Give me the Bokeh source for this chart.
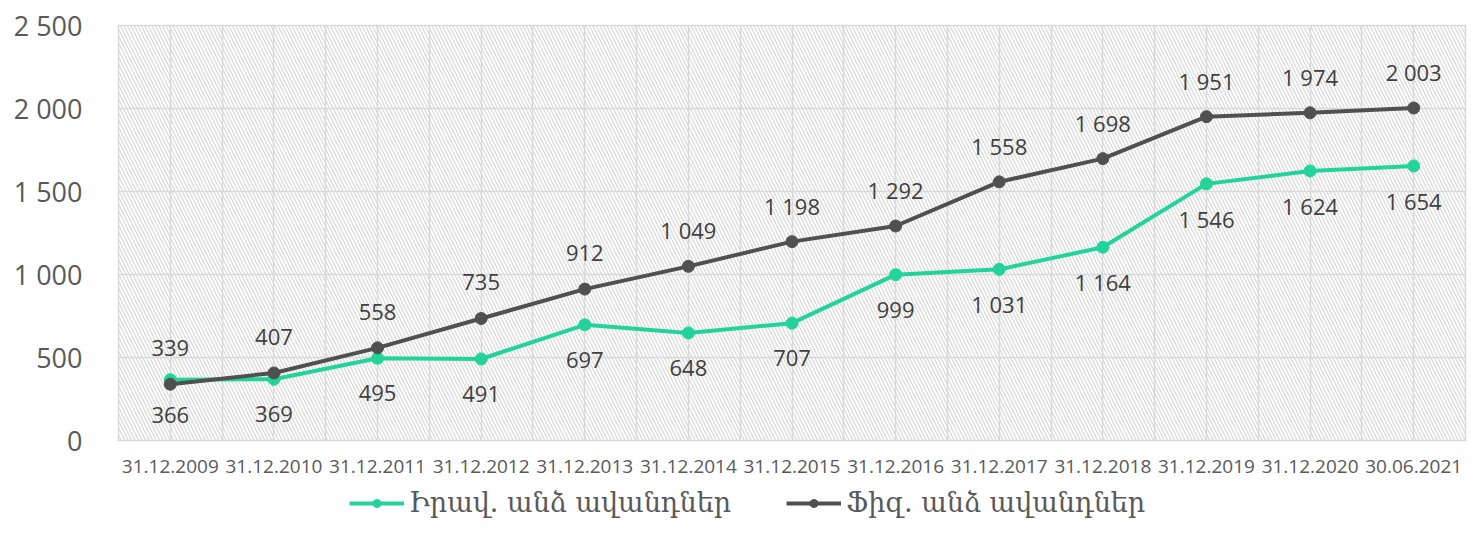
from bokeh.plotting import figure
from bokeh.layouts import column
from bokeh.models import Range1d, FixedTicker, BoxAnnotation, Legend, LegendItem, ColumnDataSource, LabelSet
from bokeh.embed import file_html
from bokeh.resources import INLINE
from bokeh.core.properties import value

categories = ["31.12.2009", "31.12.2010", "31.12.2011", "31.12.2012", "31.12.2013",
              "31.12.2014", "31.12.2015", "31.12.2016", "31.12.2017", "31.12.2018",
              "31.12.2019", "31.12.2020", "30.06.2021"]
legal = [366, 369, 495, 491, 697, 648, 707, 999, 1031, 1164, 1546, 1624, 1654]
physical = [339, 407, 558, 735, 912, 1049, 1198, 1292, 1558, 1698, 1951, 1974, 2003]
legal_name = "Իրավ. անձ ավանդներ"
physical_name = "Ֆիզ. անձ ավանդներ"
y_ticks = [0, 500, 1000, 1500, 2000, 2500]

GREEN = "#22d49a"
DARK = "#505050"
GRID = "#d9d9d9"
FONT = "Open Sans"

def fmt(v):
    return f"{v:,}".replace(",", " ")

n = len(categories)
xs = list(range(n))

p = figure(frame_width=1347, frame_height=415, output_backend="svg", toolbar_location=None,
           x_range=Range1d(-0.5, n - 0.5), y_range=Range1d(0, 2500),
           min_border_left=118, min_border_right=8, min_border_top=25, min_border_bottom=42)
p.outline_line_color = GRID
p.outline_line_width = 1.5
p.background_fill_color = "white"
p.border_fill_color = "white"

hatch = BoxAnnotation(fill_color=None, line_color=None, hatch_pattern="\\", hatch_color="#d8d8d8",
                      hatch_scale=7, hatch_weight=1.2, level="underlay")
p.add_layout(hatch)

p.xgrid.ticker = FixedTicker(ticks=[i * 0.5 - 0.5 for i in range(2 * n + 1)])
p.ygrid.ticker = FixedTicker(ticks=y_ticks)
for g in (p.xgrid, p.ygrid):
    g.grid_line_color = GRID
    g.grid_line_width = 1.5

p.xaxis.ticker = FixedTicker(ticks=xs)
p.xaxis.major_label_overrides = {i: c for i, c in zip(xs, categories)}
p.yaxis.ticker = FixedTicker(ticks=y_ticks)
p.yaxis.major_label_overrides = {t: fmt(t) for t in y_ticks}
for ax in (p.xaxis, p.yaxis):
    ax.axis_line_color = None
    ax.major_tick_line_color = None
    ax.minor_tick_line_color = None
    ax.major_label_text_font = FONT
    ax.major_label_text_color = "#595959"
p.xaxis.major_label_text_font_size = "19px"
p.xaxis.major_label_standoff = 13
p.yaxis.major_label_text_font_size = "27px"
p.yaxis.major_label_standoff = 30

src = ColumnDataSource(dict(x=xs, legal=legal, physical=physical,
                            legal_t=[fmt(v) for v in legal], physical_t=[fmt(v) for v in physical]))

p.line("x", "legal", source=src, line_color=GREEN, line_width=4)
p.scatter("x", "legal", source=src, size=12, fill_color=GREEN, line_color=GREEN)
p.line("x", "physical", source=src, line_color=DARK, line_width=4)
p.scatter("x", "physical", source=src, size=12, fill_color=DARK, line_color=DARK)

lab1 = LabelSet(x="x", y="legal", text="legal_t", source=src, y_offset=-35, text_align="center",
                text_baseline="middle", text_font=value(FONT), text_font_size="22px", text_color="#404040")
lab2 = LabelSet(x="x", y="physical", text="physical_t", source=src, y_offset=36, text_align="center",
                text_baseline="middle", text_font=value(FONT), text_font_size="22px", text_color="#404040")
p.add_layout(lab1)
p.add_layout(lab2)

# legend strip below the chart (legend-only renderers carry no visible data)
lf = figure(width=1473, height=60, output_backend="svg", toolbar_location=None,
            x_range=Range1d(0, 1), y_range=Range1d(0, 1),
            x_axis_location=None, y_axis_location=None,
            min_border_left=0, min_border_right=0, min_border_top=0, min_border_bottom=0)
lf.grid.visible = False
lf.outline_line_color = None
lf.background_fill_color = "white"
lf.border_fill_color = "white"
nan = float("nan")
empty = ColumnDataSource(dict(x=[nan], y=[nan]))
ll1 = lf.line("x", "y", source=empty, line_color=GREEN, line_width=4)
ls1 = lf.scatter("x", "y", source=empty, size=12, fill_color=GREEN, line_color=GREEN)
ll2 = lf.line("x", "y", source=empty, line_color=DARK, line_width=4)
ls2 = lf.scatter("x", "y", source=empty, size=12, fill_color=DARK, line_color=DARK)

legend = Legend(items=[LegendItem(label=legal_name, renderers=[ll1, ls1]),
                       LegendItem(label=physical_name, renderers=[ll2, ls2])],
                orientation="horizontal", location=(231, 24),
                label_text_font="DejaVu Serif", label_text_font_size="27px", label_text_color="#595959",
                glyph_width=55, glyph_height=20, spacing=55, border_line_color=None,
                background_fill_alpha=0, margin=0, padding=4, label_standoff=5)
lf.add_layout(legend)

layout = column(p, lf, spacing=0)
open("out.html", "w").write(file_html(layout, INLINE, title="chart"))
